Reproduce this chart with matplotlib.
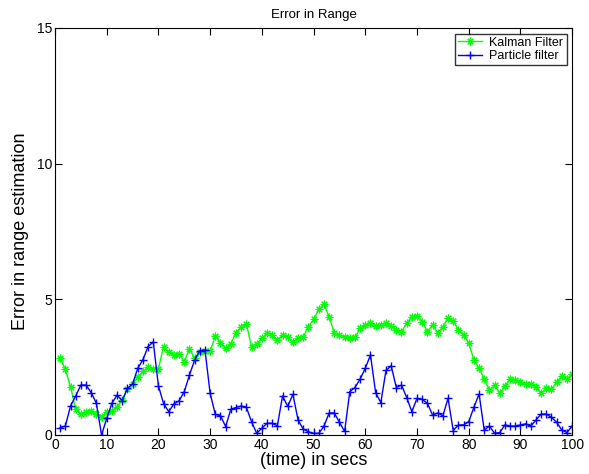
import matplotlib
matplotlib.use("Agg")
import matplotlib.pyplot as plt

plt.rcParams["font.family"] = ["Liberation Sans", "DejaVu Sans"]

time_secs = list(range(1, 101))

kalman_error = [
    2.83, 2.42, 1.78, 0.95, 0.76, 0.85, 0.88, 0.78, 0.68, 0.85,
    0.90, 1.04, 1.30, 1.70, 1.88, 2.15, 2.34, 2.50, 2.45, 2.45,
    3.26, 3.04, 2.96, 2.98, 2.70, 3.17, 2.83, 3.07, 3.10, 3.09,
    3.65, 3.40, 3.20, 3.36, 3.77, 3.99, 4.09, 3.26, 3.36, 3.56,
    3.77, 3.69, 3.50, 3.69, 3.60, 3.44, 3.56, 3.62, 3.99, 4.26,
    4.63, 4.83, 4.36, 3.77, 3.69, 3.62, 3.56, 3.60, 3.93, 4.05,
    4.14, 4.02, 4.05, 4.14, 4.02, 3.87, 3.81, 4.11, 4.36, 4.39,
    4.18, 3.81, 4.05, 3.77, 3.99, 4.30, 4.21, 3.87, 3.69, 3.38,
    2.77, 2.46, 2.06, 1.66, 1.84, 1.54, 1.81, 2.06, 2.01, 1.94,
    1.89, 1.89, 1.77, 1.54, 1.72, 1.69, 1.94, 2.16, 2.06, 2.26,
]

particle_error = [
    0.27, 0.33, 1.07, 1.44, 1.84, 1.84, 1.56, 1.17, 0.00, 0.61,
    1.17, 1.47, 1.26, 1.72, 1.88, 2.46, 2.77, 3.26, 3.43, 1.81,
    1.15, 0.86, 1.15, 1.26, 1.60, 2.21, 2.76, 3.11, 3.13, 1.53,
    0.76, 0.71, 0.31, 0.95, 1.01, 1.07, 1.02, 0.49, 0.06, 0.25,
    0.43, 0.43, 0.34, 1.44, 1.05, 1.50, 0.55, 0.22, 0.12, 0.06,
    0.06, 0.32, 0.81, 0.81, 0.47, 0.13, 1.60, 1.75, 2.06, 2.46,
    2.95, 1.56, 1.19, 2.38, 2.55, 1.75, 1.84, 1.38, 0.86, 1.35,
    1.31, 1.17, 0.74, 0.81, 0.71, 1.35, 0.16, 0.37, 0.37, 0.49,
    1.02, 1.51, 0.18, 0.33, 0.06, 0.09, 0.37, 0.33, 0.33, 0.37,
    0.41, 0.33, 0.55, 0.77, 0.77, 0.65, 0.47, 0.18, 0.09, 0.33,
]

fig = plt.figure(figsize=(5.89, 4.74), dpi=100)
ax = fig.add_axes([0.0934, 0.0823, 0.878, 0.8587])

# MATLAB-style asterisk and plus markers
ax.plot(time_secs, kalman_error, color=(0, 1, 0), marker=(8, 2, 0),
        markersize=5.5, markeredgewidth=0.8, linewidth=1,
        label="Kalman Filter")
ax.plot(time_secs, particle_error, color=(0, 0, 1), marker="+",
        markersize=6, markeredgewidth=1, linewidth=1,
        label="Particle filter")

ax.set_xlim(0, 100)
ax.set_ylim(0, 15)
ax.set_xticks(range(0, 101, 10))
ax.set_yticks([0, 5, 10, 15])
ax.tick_params(direction="in", top=True, right=True, labelsize=10,
               length=5, pad=2)

ax.set_title("Error in Range", fontsize=9.5, pad=7)
ax.set_xlabel("(time) in secs", fontsize=13, labelpad=0)
ax.set_ylabel("Error in range estimation", fontsize=13, labelpad=6)

leg = ax.legend(loc="upper right", fontsize=9, frameon=True, fancybox=False,
                borderaxespad=0.45, handlelength=1.9, borderpad=0.25,
                labelspacing=0.1, handletextpad=0.6)
leg.get_frame().set_edgecolor("black")
leg.get_frame().set_linewidth(1)

fig.savefig("out.png", dpi=100)
